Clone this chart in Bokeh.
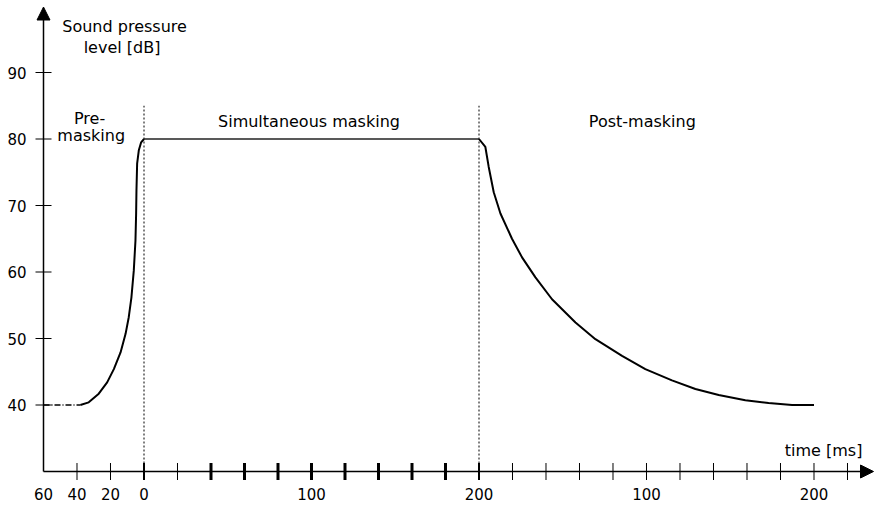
from bokeh.plotting import figure
from bokeh.models import Range1d, Arrow, NormalHead
from bokeh.core.properties import value
from bokeh.embed import file_html
from bokeh.resources import INLINE

# ---------------- data ----------------
# y axis (sound pressure level, dB)
y_ticks = [40, 50, 60, 70, 80, 90]
y_tick_labels = ["40", "50", "60", "70", "80", "90"]

# x axis: broken time axis.  Pre-masking (-60..0 ms), simultaneous (0..200 ms),
# post-masking (0..200 ms after masker end, drawn from 200 to 400)
POST_OFFSET = 200
x_ticks = [-40, -20, 0, 20, 40, 60, 80, 100, 120, 140, 160, 180, 200,
           220, 240, 260, 280, 300, 320, 340, 360, 380, 400, 420]
x_tick_weight = [1, 1, 2, 1, 3, 3, 3, 3, 3, 3, 3, 3, 2,
                 1, 1, 1, 1, 1, 1, 1, 1, 1, 1, 1]
x_label_pos = [-60, -40, -20, 0, 100, 200, 300, 400]
x_label_text = ["60", "40", "20", "0", "100", "200", "100", "200"]

# threshold before the masker (dash-dot) and pre-masking curve
pre_base_t = [-60, -38]
pre_base_db = [40, 40]
pre_t = [-38, -33, -27, -22, -18, -14, -11, -9.1, -7.5, -6.1, -5.1, -4.7,
         -4.5, -4.1, -3.1, -1.7, 0]
pre_db = [40, 40.4, 41.7, 43.4, 45.4, 47.9, 50.7, 53.2, 56.2, 60.2, 64.7, 68.8,
          72.3, 76.3, 78.3, 79.5, 80]

# simultaneous masking
sim_t = [0, 200]
sim_db = [80, 80]

# post-masking (ms after masker end)
post_t = [0, 3.8, 5.8, 8.8, 12.8, 19.7, 25.7, 33.7, 43.6, 57.6, 69.5, 85.4,
          99.3, 115.2, 129.2, 143.1, 159.0, 172.9, 186.9, 200]
post_db = [80, 78.8, 75.8, 72.0, 68.8, 65.0, 62.2, 59.2, 55.9, 52.4, 49.9, 47.4,
           45.4, 43.7, 42.4, 41.5, 40.7, 40.3, 40.0, 40.0]

# ---------------- layout ----------------
W, H = 875, 506
PX_MS = 1.675      # pixels per ms
PX_DB = 6.65       # pixels per dB
LEFT_PX = 43       # y axis position from figure left
BOTTOM_PX = 35     # x axis position from figure bottom
X_MIN, Y_MIN = -60, 30

x0 = X_MIN - LEFT_PX / PX_MS
x1 = x0 + W / PX_MS
y0 = Y_MIN - BOTTOM_PX / PX_DB
y1 = y0 + H / PX_DB

FONT = value("DejaVu Sans")
INK = "#000000"

p = figure(width=W, height=H, x_range=Range1d(x0, x1), y_range=Range1d(y0, y1),
           output_backend="svg", toolbar_location=None, min_border=0,
           x_axis_location=None, y_axis_location=None)
p.title = None
p.grid.visible = False
p.outline_line_color = None
p.background_fill_color = "white"
p.border_fill_color = "white"

# axes with arrow heads
p.add_layout(Arrow(x_start=X_MIN, y_start=Y_MIN, x_end=x1 - 2 / PX_MS, y_end=Y_MIN,
                   line_color=INK, line_width=1.5,
                   end=NormalHead(size=13, fill_color=INK, line_color=INK, line_width=1)))
p.add_layout(Arrow(x_start=X_MIN, y_start=Y_MIN, x_end=X_MIN, y_end=y1 - 6.5 / PX_DB,
                   line_color=INK, line_width=1.5,
                   end=NormalHead(size=13, fill_color=INK, line_color=INK, line_width=1)))

# ticks (cross ticks)
p.scatter(x=[X_MIN] * len(y_ticks), y=y_ticks, marker="dash", size=16,
          line_color=INK, line_width=1.2)
p.scatter(x=x_ticks, y=[Y_MIN] * len(x_ticks), marker="dash", size=17, angle=1.5708,
          line_color=INK, line_width=x_tick_weight)

# tick labels
p.text(x=[X_MIN - 17 / PX_MS] * len(y_ticks), y=y_ticks, text=y_tick_labels,
       text_font=FONT, text_font_size="15px", text_color=INK,
       text_align="right", text_baseline="middle")
p.text(x=x_label_pos, y=[Y_MIN - 22 / PX_DB] * len(x_label_pos), text=x_label_text,
       text_font=FONT, text_font_size="15px", text_color=INK,
       text_align="center", text_baseline="alphabetic")

# axis titles
p.text(x=[-11.6, -11.6], y=[96.9, 93.7], text=["Sound pressure", "level  [dB]"],
       text_font=FONT, text_font_size="16px", text_color=INK,
       text_align="center", text_baseline="alphabetic")
p.text(x=[428.9], y=[33.1], text=["time [ms]"],
       text_font=FONT, text_font_size="16px", text_color=INK,
       text_align="right", text_baseline="alphabetic")

# region labels
p.text(x=[-32.5, -31.5], y=[83.1, 80.6], text=["Pre-", "masking"],
       text_font=FONT, text_font_size="16px", text_color=INK,
       text_align="center", text_baseline="alphabetic")
p.text(x=[98.5, 297.5], y=[82.7, 82.7], text=["Simultaneous masking", "Post-masking"],
       text_font=FONT, text_font_size="16px", text_color=INK,
       text_align="center", text_baseline="alphabetic")

# masker onset / offset markers
p.segment(x0=[0, 200], y0=[Y_MIN, Y_MIN], x1=[0, 200], y1=[85, 85],
          line_color=INK, line_width=1, line_dash="2 2")

# curves
p.line(pre_base_t, pre_base_db, line_color=INK, line_width=1.3, line_dash="6 2 1 2")
p.line(pre_t, pre_db, line_color=INK, line_width=2)
p.line(sim_t, sim_db, line_color="#222222", line_width=1.4)
p.line([t + POST_OFFSET for t in post_t], post_db, line_color=INK, line_width=2)

open("out.html", "w").write(file_html(p, INLINE))
